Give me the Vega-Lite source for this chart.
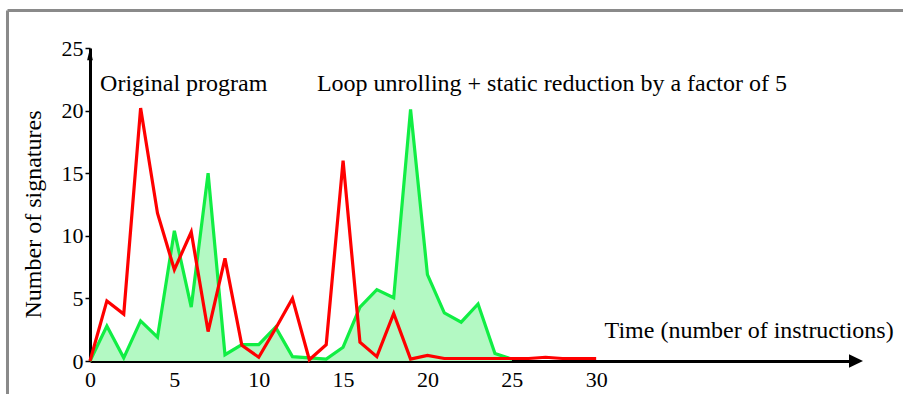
{
  "$schema": "https://vega.github.io/schema/vega-lite/v6.json",
  "width": 766,
  "height": 313,
  "autosize": {"type": "none"},
  "padding": {"left": 90, "top": 48, "right": 47, "bottom": 33},
  "background": "white",
  "config": {
    "view": {"stroke": null},
    "font": "Liberation Serif",
    "axis": {"labelFont": "Liberation Serif", "titleFont": "Liberation Serif"},
    "text": {"font": "Liberation Serif"}
  },
  "datasets": {
    "original": [
      {"t": 0, "n": 0}, {"t": 1, "n": 4.8}, {"t": 2, "n": 3.75}, {"t": 3, "n": 20.2},
      {"t": 4, "n": 11.8}, {"t": 5, "n": 7.3}, {"t": 6, "n": 10.3}, {"t": 7, "n": 2.35},
      {"t": 8, "n": 8.2}, {"t": 9, "n": 1.25}, {"t": 10, "n": 0.3}, {"t": 11, "n": 2.6},
      {"t": 12, "n": 5.0}, {"t": 13, "n": 0.1}, {"t": 14, "n": 1.3}, {"t": 15, "n": 16.0},
      {"t": 16, "n": 1.5}, {"t": 17, "n": 0.35}, {"t": 18, "n": 3.8}, {"t": 19, "n": 0.15},
      {"t": 20, "n": 0.45}, {"t": 21, "n": 0.2}, {"t": 22, "n": 0.2}, {"t": 23, "n": 0.2},
      {"t": 24, "n": 0.2}, {"t": 25, "n": 0.2}, {"t": 26, "n": 0.2}, {"t": 27, "n": 0.3},
      {"t": 28, "n": 0.2}, {"t": 29, "n": 0.2}, {"t": 30, "n": 0.2}
    ],
    "unrolled": [
      {"t": 0, "n": 0}, {"t": 1, "n": 2.8}, {"t": 2, "n": 0.25}, {"t": 3, "n": 3.2},
      {"t": 4, "n": 1.9}, {"t": 5, "n": 10.4}, {"t": 6, "n": 4.3}, {"t": 7, "n": 15.0},
      {"t": 8, "n": 0.5}, {"t": 9, "n": 1.3}, {"t": 10, "n": 1.3}, {"t": 11, "n": 2.7},
      {"t": 12, "n": 0.35}, {"t": 13, "n": 0.25}, {"t": 14, "n": 0.15}, {"t": 15, "n": 1.1},
      {"t": 16, "n": 4.3}, {"t": 17, "n": 5.7}, {"t": 18, "n": 5.05}, {"t": 19, "n": 20.1},
      {"t": 20, "n": 6.9}, {"t": 21, "n": 3.85}, {"t": 22, "n": 3.1}, {"t": 23, "n": 4.55},
      {"t": 24, "n": 0.6}, {"t": 25, "n": 0.15}
    ],
    "frame": [
      {"t": -4.89, "n": -3.5, "t2": -4.89, "n2": 28.0},
      {"t": -4.89, "n": 28.0, "t2": 49, "n2": 28.0}
    ],
    "yarrow": [{"t": 0, "n": 24.5}],
    "xarrow": [{"t": 45.4, "n": 0}],
    "labels": [
      {"t": 0.6, "n": 21.6, "label": "Original program"},
      {"t": 13.45, "n": 21.6, "label": "Loop unrolling + static reduction by a factor of 5"},
      {"t": 30.5, "n": 1.8, "label": "Time (number of instructions)"}
    ]
  },
  "encoding": {
    "x": {
      "field": "t", "type": "quantitative",
      "scale": {"domain": [0, 45.4], "nice": false, "zero": false},
      "axis": {
        "title": null, "values": [0, 5, 10, 15, 20, 25, 30], "grid": false,
        "domainColor": "black", "domainWidth": 3, "ticks": false,
        "labelFont": "Liberation Serif", "labelFontSize": 22, "labelColor": "black",
        "labelPadding": 8, "labelFlush": false
      }
    },
    "y": {
      "field": "n", "type": "quantitative",
      "scale": {"domain": [0, 25], "nice": false, "zero": false},
      "axis": {
        "title": "Number of signatures", "values": [0, 5, 10, 15, 20, 25], "grid": false,
        "domainColor": "black", "domainWidth": 3, "tickColor": "black", "tickWidth": 1.5,
        "tickSize": 5, "labelFont": "Liberation Serif", "labelFontSize": 22,
        "labelColor": "black", "labelPadding": 2, "labelFlush": false,
        "titleFont": "Liberation Serif", "titleFontSize": 24, "titleFontWeight": "normal",
        "titleColor": "black", "titlePadding": 16, "titleY": 166
      }
    }
  },
  "layer": [
    {
      "data": {"name": "frame"},
      "mark": {"type": "rule", "color": "#8a8a8a", "strokeWidth": 3},
      "encoding": {"x2": {"field": "t2"}, "y2": {"field": "n2"}}
    },
    {
      "data": {"name": "unrolled"},
      "mark": {"type": "area", "color": "#b3f9c3", "opacity": 1},
      "encoding": {}
    },
    {
      "data": {"name": "unrolled"},
      "mark": {"type": "line", "color": "#11ee44", "strokeWidth": 3.2, "strokeJoin": "miter"},
      "encoding": {}
    },
    {
      "data": {"name": "original"},
      "mark": {"type": "line", "color": "#ff0000", "strokeWidth": 3.2, "strokeJoin": "miter"},
      "encoding": {}
    },
    {
      "data": {"name": "yarrow"},
      "mark": {"type": "point", "shape": "M0,-1L0.48,1L-0.48,1Z", "size": 144, "filled": true, "color": "black", "opacity": 1},
      "encoding": {}
    },
    {
      "data": {"name": "xarrow"},
      "mark": {"type": "point", "shape": "M1,0L-1,-0.95L-1,0.95Z", "size": 196, "filled": true, "color": "black", "opacity": 1},
      "encoding": {}
    },
    {
      "data": {"name": "labels"},
      "mark": {"type": "text", "align": "left", "baseline": "alphabetic", "font": "Liberation Serif", "fontSize": 24, "color": "black"},
      "encoding": {"text": {"field": "label"}}
    }
  ]
}
